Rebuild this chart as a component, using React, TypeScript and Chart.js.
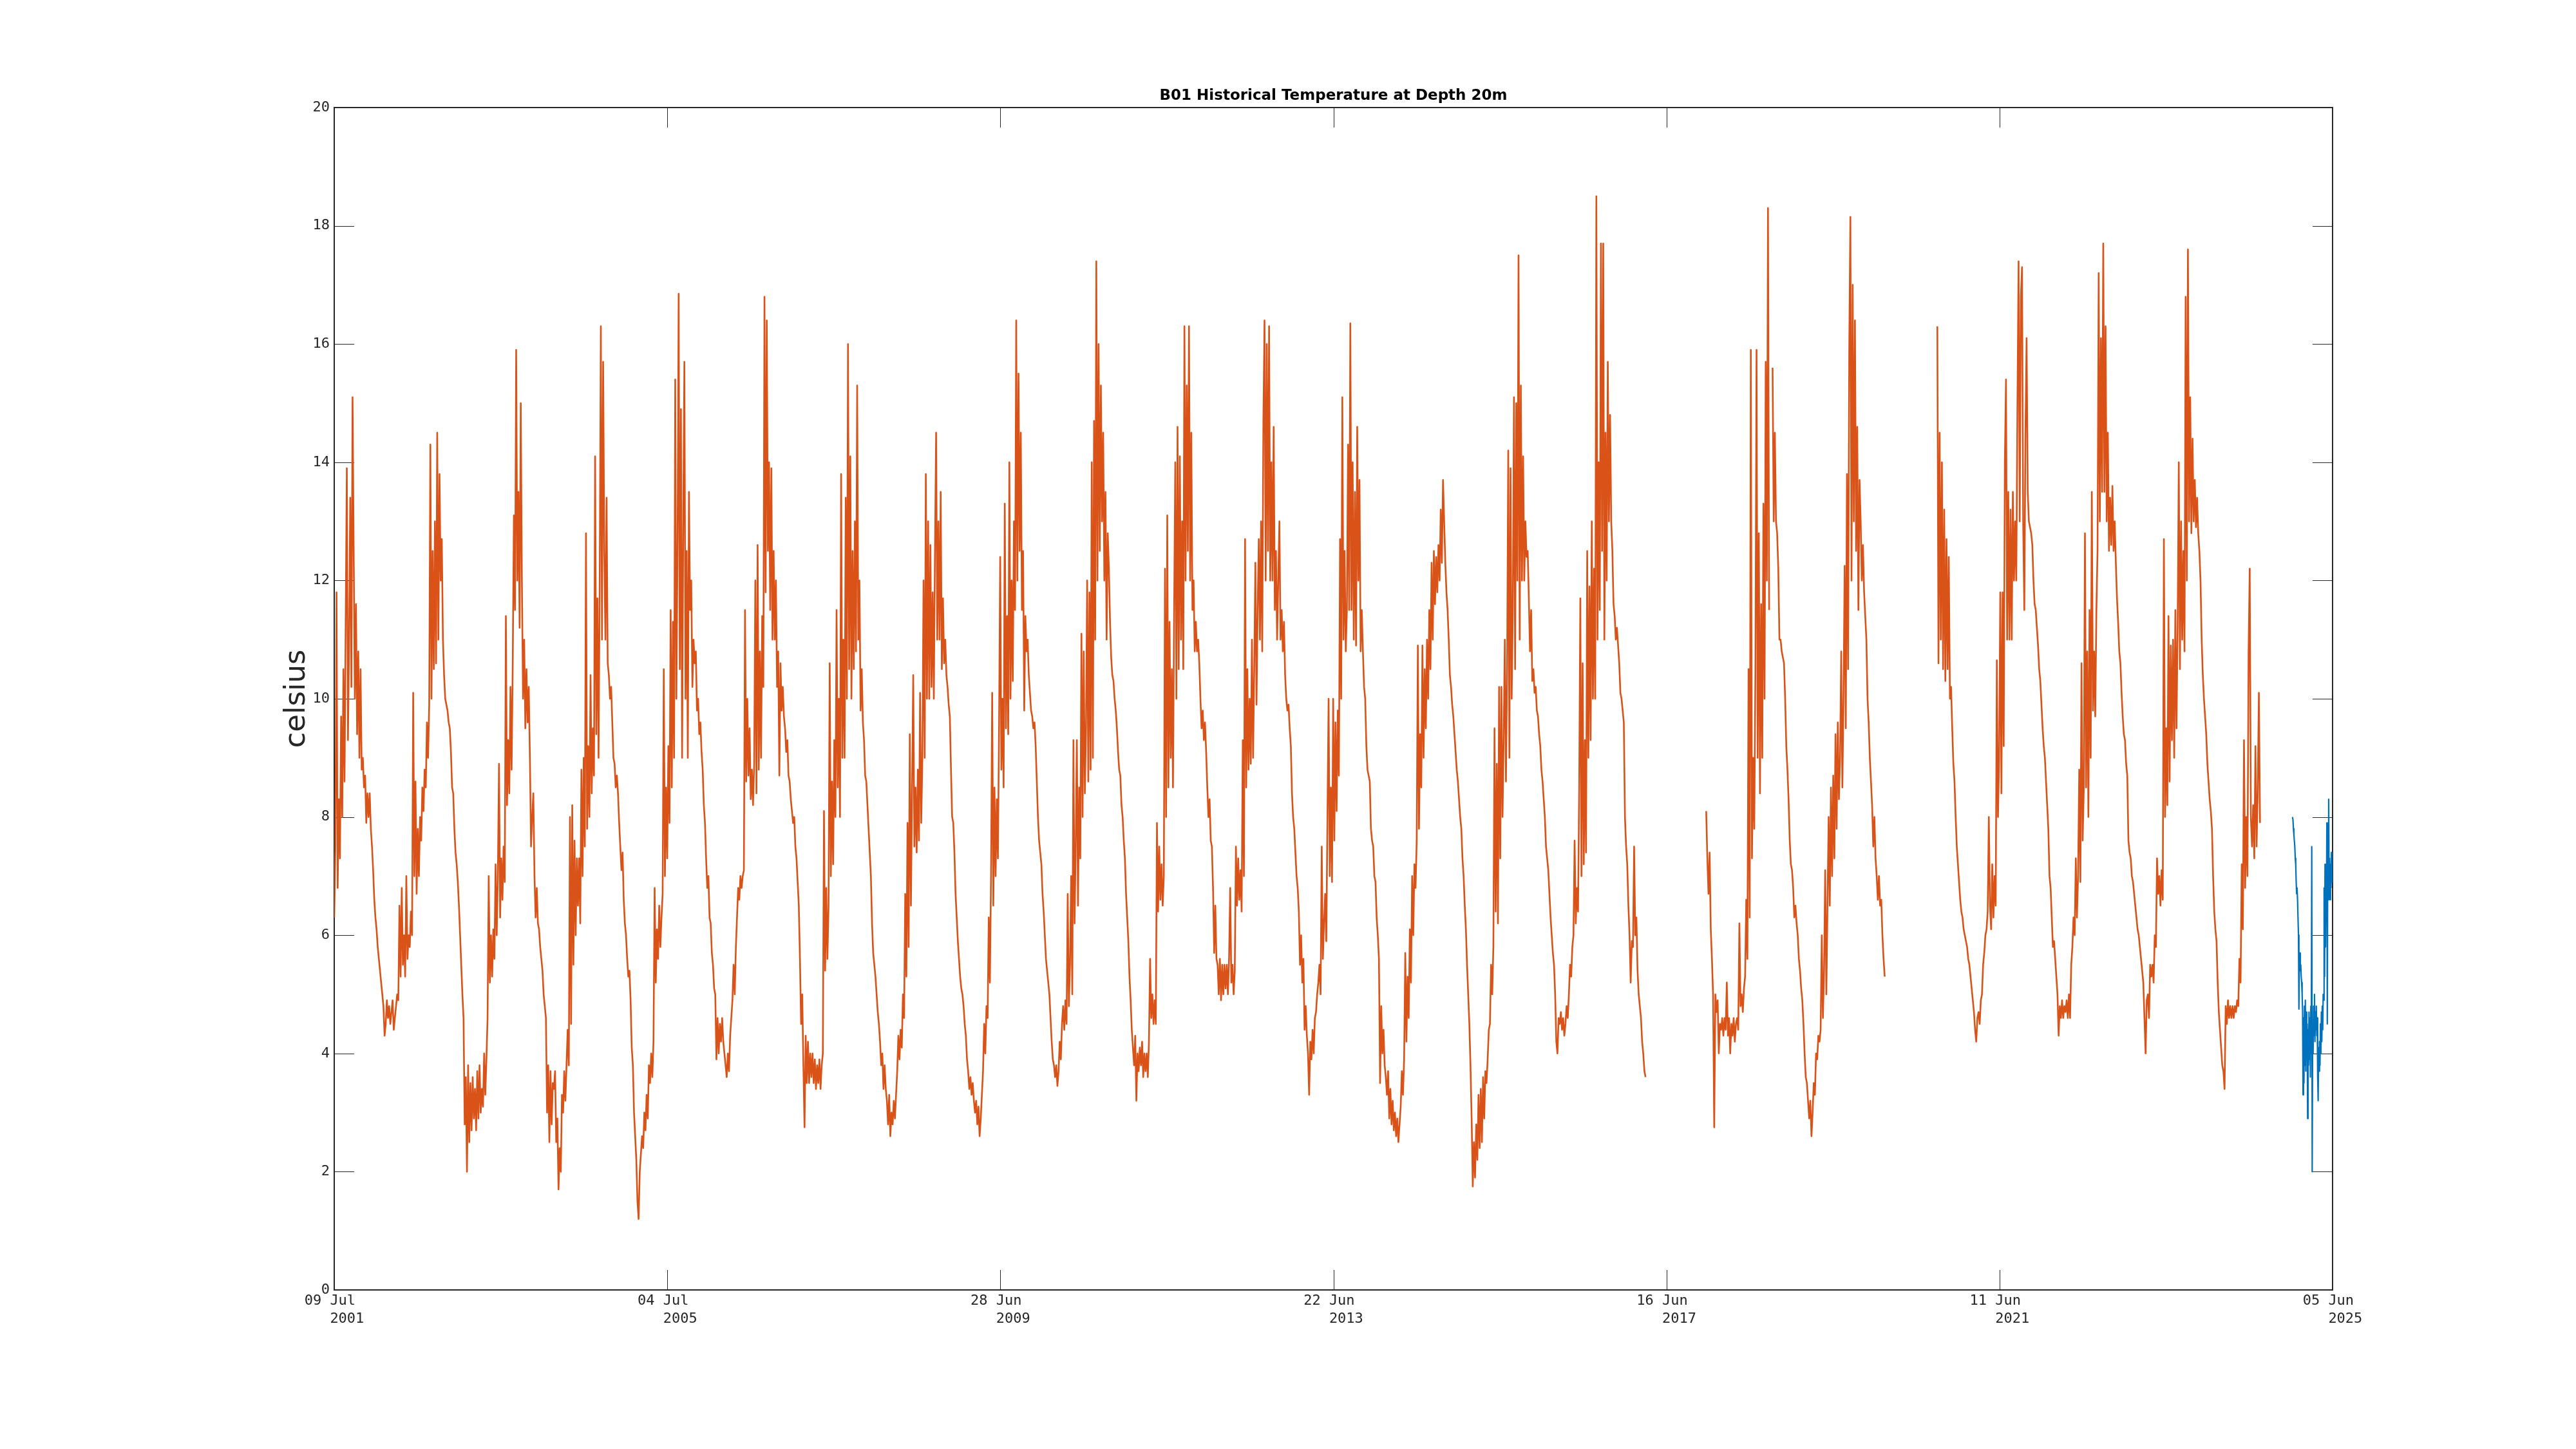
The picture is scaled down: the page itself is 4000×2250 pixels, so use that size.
import React, { useEffect, useRef } from 'react';
import { Chart, registerables } from 'chart.js';

Chart.register(...registerables);

// ---------- text ----------
const TITLE = 'B01 Historical Temperature at Depth 20m';
const Y_LABEL = 'celsius';

// ---------- axes ----------
const AXIS_START = '2001-07-09';
const AXIS_END = '2025-06-05';
const X_TICK_DATES = ['2001-07-09', '2005-07-04', '2009-06-28', '2013-06-22', '2017-06-16', '2021-06-11', '2025-06-05'];
const X_TICK_LABELS = [
  ['09 Jul ', '   2001'],
  ['04 Jul ', '   2005'],
  ['28 Jun ', '   2009'],
  ['22 Jun ', '   2013'],
  ['16 Jun ', '   2017'],
  ['11 Jun ', '   2021'],
  ['05 Jun ', '   2025'],
];
const Y_MIN = 0;
const Y_MAX = 20;
const Y_STEP = 2;

// ---------- data (°C), historical record sampled every 5 days ----------
const HIST_STEP_DAYS = 5;

const histAStart = '2001-07-09';
const histA = [
  6.3,7.5,11.8,6.8,8.3,7.3,9.7,8.0,10.5,8.6,
  11.3,13.9,9.3,11.0,13.4,10.2,15.1,12.5,10.0,11.6,
  9.4,10.8,9.0,10.5,8.8,9.0,8.5,8.7,7.9,8.4,
  8.0,8.4,7.8,7.5,7.1,6.6,6.3,6.1,5.8,5.6,
  5.4,5.2,5.0,4.8,4.3,4.5,4.9,4.6,4.8,4.5,
  4.7,4.9,4.4,4.6,4.8,5.0,4.9,6.5,5.3,6.8,
  5.5,6.0,5.3,7.0,5.6,6.0,5.8,6.4,6.0,10.1,
  7.0,8.6,6.7,7.8,7.0,8.0,7.6,8.5,8.1,8.8,
  8.5,9.6,9.0,9.9,14.3,10.0,12.5,10.5,13.0,10.6,
  14.5,11.0,13.8,12.0,12.7,11.0,10.4,10.0,9.9,9.8,
  9.6,9.5,9.1,8.5,8.4,7.8,7.4,7.2,6.9,6.5,
  6.0,5.5,5.0,4.6,2.8,3.6,2.0,3.8,2.5,3.5,
  2.7,3.6,2.9,3.4,2.7,3.7,2.9,3.8,3.0,3.4,
  3.1,4.0,3.3,3.9,4.6,7.0,5.2,6.0,5.3,6.1,
  5.6,7.2,6.0,7.0,8.9,6.3,7.3,6.6,7.5,6.9,
  11.4,8.2,9.3,8.4,10.2,8.8,10.6,13.1,11.5,15.9,
  12.0,13.5,11.2,15.0,12.0,10.0,11.0,9.5,10.5,9.6,
  10.2,9.0,7.5,8.0,8.4,7.0,6.3,6.8,6.2,6.1,
  5.8,5.6,5.4,5.0,4.8,4.6,3.0,3.8,2.5,3.7,
  2.8,3.5,3.4,3.7,2.5,2.9,1.7,2.4,2.0,3.3,
  3.0,3.7,3.2,3.8,4.4,3.8,8.0,4.5,8.2,5.5,
  7.6,6.0,7.3,6.5,7.3,6.2,8.8,7.0,9.0,7.5,
  12.8,7.8,9.2,8.0,10.4,8.4,9.5,8.7,14.1,9.4,
  11.7,9.0,12.0,16.3,11.0,15.7,12.5,11.0,13.4,10.6,
  10.4,10.0,10.2,9.6,9.0,8.9,8.5,8.7,8.4,7.9,
  7.5,7.1,7.4,6.6,6.2,6.0,5.6,5.3,5.4,4.9,
  4.1,3.8,3.0,2.6,2.2,1.5,1.2,2.0,2.3,2.6,
  2.4,3.0,2.7,3.3,2.9,3.8,3.5,4.0,3.6,4.2,
  6.8,5.2,6.1,5.6,6.5,5.8,6.3,6.7,10.5,7.0,
  8.5,7.3,9.2,7.9,11.5,8.5,11.3,9.0,15.4,10.0,
  12.5,16.85,10.5,14.9,9.0,13.0,15.7,10.0,12.5,9.0,
  13.5,11.5,12.0,10.2,11.0,10.6,10.8,9.8,10.0,9.4,
  9.6,9.1,8.8,8.2,7.9,7.3,6.8,7.0,6.3,6.2,
  5.7,5.5,5.1,5.0,3.9,4.6,4.0,4.5,4.2,4.6,
  4.2,4.0,3.8,3.6,4.0,3.7,4.3,4.6,4.9,5.5,
];

const histBStart = '2006-04-24';
const histB = [
  5.0,5.8,6.3,6.8,6.6,7.0,6.8,7.0,7.1,11.5,
  8.6,10.0,8.7,9.5,8.3,8.8,8.2,8.9,12.0,8.4,
  12.6,8.8,10.8,9.0,11.4,10.2,16.8,11.8,16.4,12.5,
  14.0,11.5,13.9,11.0,12.5,11.0,12.0,10.2,10.8,8.7,
  10.6,9.8,10.2,9.7,9.5,9.1,9.3,8.7,8.6,8.3,
  8.1,7.9,8.0,7.5,7.3,6.9,6.5,5.6,4.5,5.0,
  3.8,2.75,4.3,3.5,4.2,3.5,4.0,3.6,4.0,3.5,
  3.9,3.4,3.8,3.5,3.9,3.4,3.8,4.0,8.1,5.4,
  6.8,5.6,6.5,10.6,7.0,8.6,7.2,9.3,8.0,11.5,
  8.5,10.0,8.0,13.8,9.0,11.0,9.0,13.4,10.0,16.0,
  10.5,14.1,10.0,12.5,10.5,13.0,10.8,15.3,11.0,12.0,
  9.8,10.5,9.6,9.3,8.7,8.6,8.2,7.8,7.4,7.0,
  6.2,5.7,5.5,5.3,5.0,4.7,4.5,4.2,3.8,4.0,
  3.4,3.8,3.4,3.2,2.8,3.3,2.6,3.0,2.8,3.2,
  2.9,3.3,3.7,4.3,3.9,4.4,4.1,5.0,4.6,6.7,
  5.3,7.9,5.8,9.4,6.5,8.5,10.4,7.5,8.5,7.4,
  8.8,7.6,10.1,7.9,9.0,12.0,9.0,13.8,10.0,13.0,
  10.0,12.6,10.2,11.8,10.0,12.5,14.5,11.0,13.0,11.0,
  13.5,10.5,11.7,10.6,11.0,10.4,10.2,9.9,9.7,8.8,
  8.0,7.9,7.4,6.7,6.3,5.9,5.6,5.3,5.1,5.0,
  4.8,4.5,4.3,3.9,3.7,3.4,3.6,3.3,3.5,3.2,
  3.0,3.2,2.8,3.1,2.6,2.9,3.3,3.7,4.5,4.0,
  4.8,4.6,6.3,5.2,7.0,10.1,6.5,8.5,7.0,8.3,
  7.3,9.5,12.4,8.8,10.0,8.5,13.3,9.5,11.4,9.4,
  14.0,10.0,12.0,10.3,13.0,11.5,16.4,12.0,15.5,12.5,
  14.5,11.5,12.5,9.8,11.4,10.8,11.0,10.4,10.1,9.8,
  9.7,9.5,9.6,9.2,8.6,8.0,7.6,7.4,7.2,6.7,
  6.4,6.0,5.6,5.4,5.2,5.0,4.6,4.2,3.9,3.8,
  3.6,3.8,3.45,3.7,4.2,3.9,4.5,4.8,4.4,4.9,
  4.5,6.7,4.8,5.5,7.0,5.0,9.3,6.2,7.5,9.3,
  6.5,8.5,7.3,11.1,8.0,10.8,8.4,9.5,12.0,8.6,
  11.8,8.8,14.0,9.0,14.7,11.0,17.4,12.0,16.0,12.5,
  15.3,13.0,14.5,12.0,13.5,11.0,12.8,12.2,11.3,10.7,
  10.4,10.3,10.0,9.8,9.5,9.1,8.8,8.7,8.2,8.0,
  7.6,7.3,6.7,6.3,5.9,5.3,4.9,4.4,4.1,
];

const histCStart = '2011-02-02';
const histC = [
  3.8,4.3,3.2,4.0,3.7,4.1,3.8,4.2,3.6,4.0,
  3.7,4.0,3.6,4.2,5.6,4.6,5.0,4.5,4.9,4.5,
  7.9,6.4,7.5,6.6,7.2,6.5,7.0,12.2,8.0,13.1,
  8.5,11.3,9.0,10.5,8.5,11.5,14.0,10.0,14.6,10.5,
  14.1,11.0,13.0,10.5,16.3,12.0,15.3,12.5,16.3,12.0,
  14.5,11.5,12.0,10.8,11.3,10.8,11.0,10.6,10.0,9.5,
  9.8,9.3,9.6,9.1,8.5,8.0,8.3,7.6,7.5,6.8,
  5.7,6.5,5.6,5.5,5.0,5.6,4.9,5.5,5.0,5.5,
  5.1,5.5,5.0,5.6,6.8,5.2,5.5,5.0,5.4,7.5,
  6.5,7.3,6.6,7.1,6.4,9.3,7.0,12.7,8.5,10.5,
  8.8,10.0,8.9,11.0,9.0,10.5,12.3,9.9,11.5,12.7,
  11.0,13.0,10.8,14.7,16.4,12.0,16.0,12.5,16.3,12.0,
  14.0,12.0,14.6,11.5,12.5,11.0,12.0,13.0,11.0,11.5,
  10.8,11.3,10.4,10.0,9.8,9.9,9.5,9.2,8.4,8.0,
  7.8,7.4,7.0,6.8,6.4,5.5,6.0,5.2,5.6,4.4,
  4.8,4.3,4.0,3.3,4.2,3.9,4.4,4.0,4.6,4.7,
  5.0,5.2,5.5,5.0,7.5,5.6,6.2,6.7,5.9,8.0,
  10.0,7.0,8.5,6.9,10.0,7.6,9.6,8.1,9.8,8.7,
  12.7,10.0,15.1,11.0,12.5,10.8,11.5,14.3,11.5,16.35,
  11.5,14.0,11.0,13.5,10.9,14.6,12.0,13.7,10.8,11.5,
  10.8,10.2,10.0,9.2,8.8,8.7,8.6,7.8,7.6,7.5,
  7.0,6.9,6.3,6.0,5.6,3.5,4.8,4.0,4.4,3.8,
  3.6,3.3,3.7,2.9,3.4,2.8,3.2,2.7,3.0,2.6,
  2.9,2.5,2.8,3.1,3.7,3.3,3.9,5.7,4.2,5.3,
  4.6,6.1,5.2,7.0,6.0,7.2,6.8,7.6,10.9,7.8,
  9.4,8.5,10.9,9.0,10.5,9.5,11.0,10.0,11.5,10.5,
  12.3,11.0,12.5,11.6,12.4,11.8,12.6,12.0,13.2,12.3,
  13.7,13.0,12.3,11.8,11.5,11.0,10.4,10.2,9.9,9.7,
  9.4,9.1,8.8,8.6,8.3,8.0,7.8,7.3,7.0,6.5,
  6.1,5.5,5.0,4.5,3.8,2.9,1.75,2.5,1.9,2.8,
  2.2,3.3,2.4,3.4,2.5,3.6,2.9,3.7,3.5,3.9,
  4.4,4.5,5.5,5.0,5.8,9.5,6.4,8.9,6.2,10.2,
  7.3,10.2,8.0,9.3,11.0,8.6,10.5,14.2,9.0,13.9,
  10.0,11.5,15.1,10.5,15.0,12.0,17.5,11.0,15.3,12.0,
  14.1,12.0,13.0,12.4,12.5,11.7,10.8,11.5,10.3,
];

const histDStart = '2015-11-13';
const histD = [
  10.5,10.1,10.2,9.8,9.7,9.4,9.2,8.8,8.6,8.3,
  8.0,7.5,7.3,7.1,6.7,6.3,6.0,5.7,5.5,5.0,
  4.2,4.0,4.6,4.5,4.7,4.4,4.6,4.3,4.5,4.8,
  4.6,5.0,5.5,5.3,5.8,6.0,7.6,6.2,6.8,6.4,
  8.5,11.7,7.0,10.6,7.2,9.3,7.4,12.5,9.0,11.9,
  9.3,13.0,10.0,12.2,10.0,18.5,11.0,14.0,11.5,17.7,
  12.5,17.7,11.0,14.5,12.0,15.7,13.0,14.8,13.0,12.5,
  11.6,11.4,11.0,11.2,10.9,10.6,10.1,10.0,9.8,9.6,
  8.0,7.5,7.2,6.5,6.0,5.2,5.9,5.8,7.5,6.0,
  6.3,5.4,5.0,4.8,4.6,4.2,4.0,3.7,3.6,
];

const histEStart = '2017-12-07';
const histE = [
  8.1,7.3,6.7,7.4,6.1,5.6,5.0,2.75,5.0,4.7,
  4.9,4.0,4.5,4.4,4.6,4.3,4.6,4.4,5.2,4.3,
  4.6,4.0,4.5,4.3,4.6,4.2,4.5,4.6,4.4,6.2,
  4.8,5.0,4.7,5.1,5.3,6.6,5.6,10.5,6.3,15.9,
  7.3,9.0,7.8,10.5,15.9,9.0,12.8,8.4,11.6,9.0,
  13.3,10.0,15.7,12.0,18.3,11.5,null,null,15.6,13.0,
  14.5,13.0,12.8,12.2,11.0,11.0,10.8,10.7,10.6,10.0,
  9.2,8.8,8.3,7.6,7.2,7.1,6.8,6.3,6.5,6.2,
  6.0,5.6,5.4,5.1,4.9,4.5,4.0,3.6,3.5,3.2,
  2.9,3.2,2.6,3.0,3.5,3.3,4.0,3.9,4.3,4.2,
  4.4,6.0,4.6,5.4,7.1,5.0,6.5,8.0,6.5,8.5,
  7.0,8.7,7.3,9.4,7.8,9.6,8.3,9.0,10.8,8.5,
  10.0,12.25,9.5,13.8,10.5,15.9,18.15,12.0,17.0,13.0,
  16.4,12.5,14.6,11.5,13.7,13.0,12.0,12.6,11.8,11.4,
  11.0,10.0,9.6,9.0,8.6,8.2,7.5,8.0,7.3,7.0,
  6.6,7.0,6.5,6.6,6.0,5.6,5.3,
];

const histFStart = '2020-09-12';
const histF = [
  16.3,10.6,14.5,11.0,14.0,10.5,13.2,10.3,12.7,10.5,
  12.4,10.0,10.2,9.5,8.9,8.6,8.0,7.5,7.2,6.9,
  6.6,6.4,6.3,6.1,6.0,5.9,5.8,5.6,5.5,5.3,
  5.1,4.9,4.7,4.4,4.2,4.6,4.7,4.5,4.9,5.0,
  5.5,5.7,6.0,6.1,6.4,8.0,6.5,6.1,7.2,6.3,
  7.0,6.5,10.65,8.0,9.0,11.8,8.4,11.8,9.2,14.0,
  15.4,11.0,13.5,11.0,13.2,11.0,13.5,12.0,13.0,12.0,
  15.0,17.4,13.0,16.8,17.3,13.0,11.5,14.5,16.1,13.5,
  13.0,12.9,12.8,12.6,12.0,11.6,11.5,11.2,10.9,10.5,
  10.3,9.9,9.5,9.2,9.0,8.6,8.2,7.8,7.0,6.8,
  6.3,5.8,5.9,5.6,5.3,5.0,4.3,4.8,4.6,4.9,
  4.6,4.8,4.7,4.9,4.6,5.0,4.6,5.5,5.8,6.3,
  6.0,7.3,6.3,7.0,8.8,6.9,10.6,7.6,8.5,12.8,
  8.5,10.8,8.0,11.5,9.0,13.5,9.8,10.8,9.7,11.5,
  12.5,17.2,13.0,16.1,13.5,17.7,13.5,16.3,13.0,14.5,
  12.5,13.4,12.6,13.6,12.5,13.0,12.3,11.7,11.3,10.8,
  10.6,10.1,9.7,9.4,9.3,8.9,8.7,7.6,7.4,7.3,
  7.0,6.9,6.7,6.5,6.3,6.1,6.0,5.8,5.6,5.4,
  5.2,4.6,4.0,4.9,5.0,4.6,5.5,5.3,5.5,5.2,
  6.0,5.8,7.3,6.7,7.0,6.5,7.1,6.6,12.7,8.0,
  9.5,8.2,11.4,8.6,10.9,9.3,11.0,9.0,11.5,9.5,
  11.2,14.0,10.5,13.0,11.0,12.5,10.8,16.8,12.0,17.6,
  13.0,15.1,12.8,14.4,13.0,13.7,12.9,13.4,12.8,12.5,
  12.0,11.0,10.4,10.0,9.7,9.4,8.9,8.6,8.3,8.1,
  7.8,7.0,6.4,6.1,5.9,5.2,4.7,4.4,4.1,3.8,
  3.7,3.4,4.8,4.5,4.9,4.6,4.8,4.6,4.8,4.6,
  4.8,4.7,4.9,4.8,5.6,5.2,7.2,6.1,9.3,6.8,
  8.0,7.0,10.8,12.2,8.0,7.5,8.2,7.3,9.2,7.5,
  8.4,10.1,7.9,
];

// ---------- data (°C), recent record sampled every 2 days ----------
const RECENT_STEP_DAYS = 2;
const recentStart = '2024-12-12';
const recent = [
  8.0,7.95,7.8,7.7,7.6,7.5,7.3,7.2,6.9,6.7,
  6.8,6.6,6.3,6.0,4.75,5.6,5.7,5.4,5.5,5.3,
  5.2,5.0,4.7,3.3,4.6,3.5,4.8,3.8,4.9,3.7,
  4.7,3.9,4.5,2.9,4.4,3.8,4.7,3.9,4.6,3.6,
  4.8,4.0,7.5,2.0,4.4,4.0,4.8,4.3,5.0,4.2,
  4.7,4.4,4.8,4.3,4.6,3.6,3.2,4.1,3.7,4.2,
  3.8,4.5,4.0,4.7,4.2,4.8,4.4,5.0,4.9,6.8,
  5.3,7.2,5.8,7.0,6.2,7.9,4.5,7.6,6.6,8.3,
  6.7,7.3,6.6,7.2,6.8,7.4,6.9,
];

// ---------- colours & fonts ----------
const HIST_COLOR = '#D95319';
const RECENT_COLOR = '#0072BD';
const AXIS_COLOR = '#262626';
const MONO = "'DejaVu Sans Mono', monospace";
const SANS = "'DejaVu Sans', sans-serif";

// ---------- helpers ----------
const DAY_MS = 86400000;
function dayOf(s: string): number {
  const [y, m, d] = s.split('-').map(Number);
  const [y0, m0, d0] = AXIS_START.split('-').map(Number);
  return Math.round((Date.UTC(y, m - 1, d) - Date.UTC(y0, m0 - 1, d0)) / DAY_MS);
}
function toPoints(start: string, step: number, vals: (number | null)[]) {
  const s = dayOf(start);
  return vals.map((v, i) => ({ x: s + i * step, y: v }));
}

const framePlugin = {
  id: 'matlabFrame',
  beforeDatasetsDraw(chart: any) {
    const { ctx, chartArea: a, scales } = chart;
    const len = 31;
    ctx.save();
    ctx.strokeStyle = AXIS_COLOR;
    ctx.lineWidth = 1;
    ctx.beginPath();
    scales.y.ticks.forEach((t: any) => {
      const y = Math.round(scales.y.getPixelForValue(t.value)) + 0.5;
      ctx.moveTo(a.left, y);
      ctx.lineTo(a.left + len, y);
      ctx.moveTo(a.right - len, y);
      ctx.lineTo(a.right, y);
    });
    scales.x.ticks.forEach((t: any) => {
      const x = Math.round(scales.x.getPixelForValue(t.value)) + 0.5;
      ctx.moveTo(x, a.bottom);
      ctx.lineTo(x, a.bottom - len);
      ctx.moveTo(x, a.top);
      ctx.lineTo(x, a.top + len);
    });
    ctx.stroke();
    ctx.lineWidth = 2;
    ctx.strokeRect(a.left, a.top, a.right - a.left, a.bottom - a.top);
    ctx.restore();
  },
  afterDraw(chart: any) {
    const { ctx, chartArea: a } = chart;
    ctx.save();
    ctx.fillStyle = '#000000';
    ctx.font = `bold 23px ${SANS}`;
    ctx.textAlign = 'center';
    ctx.textBaseline = 'alphabetic';
    ctx.fillText(TITLE, (a.left + a.right) / 2, a.top - 12);
    ctx.fillStyle = AXIS_COLOR;
    ctx.font = `45px ${SANS}`;
    ctx.translate(a.left - 46, (a.top + a.bottom) / 2);
    ctx.rotate(-Math.PI / 2);
    ctx.fillText(Y_LABEL, 0, 0);
    ctx.restore();
  },
};

export default function App() {
  const ref = useRef<HTMLCanvasElement>(null);

  useEffect(() => {
    if (!ref.current) return;
    const histPoints = [
      ...toPoints(histAStart, HIST_STEP_DAYS, histA),
      ...toPoints(histBStart, HIST_STEP_DAYS, histB),
      ...toPoints(histCStart, HIST_STEP_DAYS, histC),
      ...toPoints(histDStart, HIST_STEP_DAYS, histD),
    ];
    const lineStyle = {
      borderWidth: 2.6,
      pointRadius: 0,
      tension: 0,
      borderJoinStyle: 'round' as const,
      spanGaps: false,
    };
    const tickValues = X_TICK_DATES.map(dayOf);
    const chart = new Chart(ref.current, {
      type: 'line',
      data: {
        datasets: [
          { label: 'historical', data: histPoints, borderColor: HIST_COLOR, ...lineStyle },
          { label: 'historical', data: toPoints(histEStart, HIST_STEP_DAYS, histE), borderColor: HIST_COLOR, ...lineStyle },
          { label: 'historical', data: toPoints(histFStart, HIST_STEP_DAYS, histF), borderColor: HIST_COLOR, ...lineStyle },
          { label: 'recent', data: toPoints(recentStart, RECENT_STEP_DAYS, recent), borderColor: RECENT_COLOR, ...lineStyle, borderWidth: 2.2 },
        ],
      },
      options: {
        responsive: false,
        maintainAspectRatio: false,
        devicePixelRatio: 1,
        animation: false,
        events: [],
        layout: { padding: { left: 0, right: 378, top: 167, bottom: 0 } },
        plugins: { legend: { display: false }, tooltip: { enabled: false }, title: { display: false } },
        scales: {
          x: {
            type: 'linear',
            min: dayOf(AXIS_START),
            max: dayOf(AXIS_END),
            grid: { display: false, drawTicks: false },
            border: { display: false },
            afterBuildTicks: (scale: any) => {
              scale.ticks = tickValues.map((v) => ({ value: v }));
            },
            afterFit: (scale: any) => {
              scale.height = 247;
            },
            ticks: {
              autoSkip: false,
              maxRotation: 0,
              minRotation: 0,
              padding: 4,
              color: AXIS_COLOR,
              font: { family: MONO, size: 22, lineHeight: 1.25 },
              callback: (value: any) => {
                const i = tickValues.indexOf(Number(value));
                return i >= 0 ? X_TICK_LABELS[i] : '';
              },
            },
          },
          y: {
            type: 'linear',
            min: Y_MIN,
            max: Y_MAX,
            grid: { display: false, drawTicks: false },
            border: { display: false },
            afterFit: (scale: any) => {
              scale.width = 519;
            },
            ticks: {
              stepSize: Y_STEP,
              padding: 7,
              color: AXIS_COLOR,
              font: { family: MONO, size: 22 },
              callback: (v: any) => String(v),
            },
          },
        },
      },
      plugins: [framePlugin],
    });
    return () => chart.destroy();
  }, []);

  return (
    <div style={{ position: 'absolute', left: 0, top: 0, width: 4000, height: 2250, background: '#ffffff' }}>
      <canvas ref={ref} width={4000} height={2250} style={{ display: 'block', width: 4000, height: 2250 }} />
    </div>
  );
}
